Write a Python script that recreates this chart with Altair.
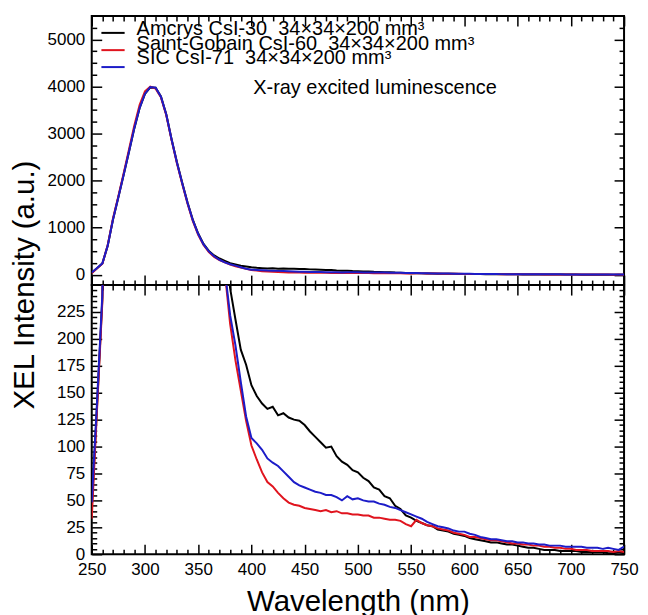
import altair as alt
import pandas as pd

FONT = "Liberation Sans, Arial, sans-serif"

wavelength = list(range(250, 755, 5))

amcrys = [42, 138, 238, 615, 1175, 1645, 2125, 2615, 3110, 3545,
          3845, 3980, 3975, 3790, 3410, 2880, 2395, 1955, 1535, 1165,
          875, 655, 505, 410, 345, 295, 247, 218, 190, 176,
          157, 147, 140, 135, 137, 129, 131, 127, 125, 124,
          120, 114, 109, 104, 99, 100, 91, 86, 83, 78,
          76, 71, 68, 62, 60, 54, 52, 45, 42, 36,
          34, 31, 29, 27, 26, 23, 22, 21, 19, 18,
          17, 15, 14, 13, 12, 11, 11, 10, 9, 9,
          8, 7, 6, 6, 5, 4, 4, 4, 3, 3,
          3, 3, 2, 2, 2, 2, 2, 1, 1, 2,
          1]

saint_gobain = [33, 135, 235, 630, 1200, 1670, 2160, 2660, 3170, 3610,
                3895, 3995, 3955, 3770, 3390, 2860, 2370, 1930, 1510, 1140,
                850, 630, 480, 380, 310, 262, 214, 180, 152, 124,
                101, 88, 76, 67, 63, 57, 52, 48, 46, 45,
                43, 42, 41, 40, 41, 39, 40, 38, 38, 37,
                37, 36, 36, 34, 34, 33, 32, 32, 31, 28,
                26, 32, 29, 27, 26, 24, 23, 22, 20, 19,
                18, 16, 16, 15, 14, 13, 13, 12, 11, 10,
                10, 9, 9, 8, 8, 7, 7, 6, 6, 5,
                5, 4, 4, 4, 3, 3, 3, 3, 2, 3,
                2]

sic = [48, 142, 242, 618, 1178, 1648, 2128, 2618, 3118, 3548,
       3848, 3988, 3975, 3785, 3405, 2875, 2385, 1945, 1525, 1155,
       865, 645, 495, 392, 318, 264, 222, 194, 160, 128,
       108, 103, 97, 89, 85, 82, 77, 72, 67, 64,
       62, 60, 58, 57, 55, 55, 53, 50, 54, 51,
       52, 50, 49, 49, 47, 46, 44, 43, 41, 39,
       37, 35, 33, 30, 28, 26, 25, 24, 22, 21,
       21, 19, 18, 16, 15, 14, 14, 13, 12, 12,
       11, 11, 10, 10, 9, 9, 8, 8, 8, 7,
       7, 7, 7, 6, 6, 6, 5, 6, 5, 4,
       7]

series_keys = ["Amcrys", "Saint-Gobain", "SIC"]
series_labels = ["Amcrys CsI-30\u00a0\u00a034\u00d734\u00d7200 mm\u00b3",
                 "Saint-Gobain CsI-60\u00a0\u00a034\u00d734\u00d7200 mm\u00b3",
                 "SIC CsI-71\u00a0\u00a034\u00d734\u00d7200 mm\u00b3"]
series_colors = ["#000000", "#e0141e", "#1c1cc8"]
annotation = "X-ray excited luminescence"
y_title = "XEL Intensity (a.u.)"
x_title = "Wavelength (nm)"

x_major = list(range(250, 751, 50))
x_minor = [v for v in range(260, 750, 10) if v % 50]
top_major = [0, 1000, 2000, 3000, 4000, 5000]
top_minor = [v for v in range(250, 5500, 250) if v % 1000]
bot_major = list(range(0, 250, 25))
bot_minor = [v for v in range(5, 250, 5) if v % 25]

rows = []
for key, vals in zip(series_keys, [amcrys, saint_gobain, sic]):
    for w, v in zip(wavelength, vals):
        rows.append({"series": key, "wavelength": w, "intensity": v})
df = pd.DataFrame(rows)

W, H = 534, 270
xscale = alt.Scale(domain=[250, 750], nice=False, zero=False)


def ax(orient, values, size, **kw):
    opts = dict(orient=orient, values=values, tickSize=size, offset=-size,
                domain=False, grid=False, labels=False, ticks=True,
                tickColor="black", tickWidth=1.5, title=None,
                minExtent=0)
    opts.update(kw)
    return alt.Axis(**opts)


def panel(ydom, ymaj, ymin, xlab_kw, ylab_kw, extra_layers):
    yscale = alt.Scale(domain=ydom, nice=False, zero=False)
    base = alt.Chart(df)

    def axis_layer(xaxis, yaxis):
        return base.mark_line(opacity=0, clip=True).encode(
            x=alt.X("wavelength:Q", scale=xscale, axis=xaxis),
            y=alt.Y("intensity:Q", scale=yscale, axis=yaxis),
            detail="series:N",
        )

    layers = [
        axis_layer(ax("bottom", x_major, 10, **xlab_kw), ax("left", ymaj, 10, **ylab_kw)),
        axis_layer(ax("bottom", x_minor, 5), ax("left", ymin, 5)),
        axis_layer(ax("top", x_major, 10), ax("right", ymaj, 10)),
        axis_layer(ax("top", x_minor, 5), ax("right", ymin, 5)),
    ]
    for key, col in zip(series_keys, series_colors):
        layers.append(
            base.transform_filter(alt.datum.series == key)
            .mark_line(color=col, strokeWidth=2, clip=True)
            .encode(
                x=alt.X("wavelength:Q", scale=xscale, axis=None),
                y=alt.Y("intensity:Q", scale=yscale, axis=None),
            )
        )
    layers += extra_layers
    return alt.layer(*layers).resolve_scale(x="shared", y="shared").resolve_axis(
        x="independent", y="independent").properties(width=W, height=H)


# legend, annotation and shared y title drawn in the top panel
extra = []
text_y = [18.7, 33.7, 48.7]
line_y = [17, 34.3, 51.3]
for lab, col, ty, ly in zip(series_labels, series_colors, text_y, line_y):
    extra.append(
        alt.Chart(pd.DataFrame({"label": [lab]})).mark_text(
            align="left", baseline="alphabetic", fontSize=20, font=FONT, color="black"
        ).encode(text="label:N", x=alt.value(45), y=alt.value(ty))
    )
    extra.append(
        alt.Chart(pd.DataFrame({"label": [lab]})).mark_rule(color=col, strokeWidth=2).encode(
            x=alt.value(9.7), x2=alt.value(33), y=alt.value(ly))
    )
extra.append(
    alt.Chart(pd.DataFrame({"label": [annotation]})).mark_text(
        align="left", baseline="alphabetic", fontSize=20, font=FONT, color="black"
    ).encode(text="label:N", x=alt.value(162), y=alt.value(78))
)
extra.append(
    alt.Chart(pd.DataFrame({"label": [y_title]})).mark_text(
        angle=270, align="center", baseline="alphabetic", fontSize=29.5, font=FONT,
        color="black"
    ).encode(text="label:N", x=alt.value(-58.4), y=alt.value(270))
)

label_style = dict(labels=True, labelFont=FONT, labelFontSize=17, labelColor="black",
                   labelPadding=7, labelFlush=False, labelOverlap=False, format="d")

top = panel([-220, 5500], top_major, top_minor, {}, dict(**label_style), extra)

bottom = panel(
    [0, 250], bot_major, bot_minor,
    dict(**label_style, title=x_title, titleFont=FONT, titleFontSize=29.5,
         titleFontWeight="normal", titleColor="black", titlePadding=10),
    dict(**label_style),
    [],
)

chart = alt.vconcat(top, bottom, spacing=0, bounds="flush").properties(
    padding={"left": 0, "top": 5, "right": 0, "bottom": 0}
).configure_view(stroke="black", strokeWidth=2)

chart.save("out.html", embed_options={"renderer": "svg", "actions": False})
